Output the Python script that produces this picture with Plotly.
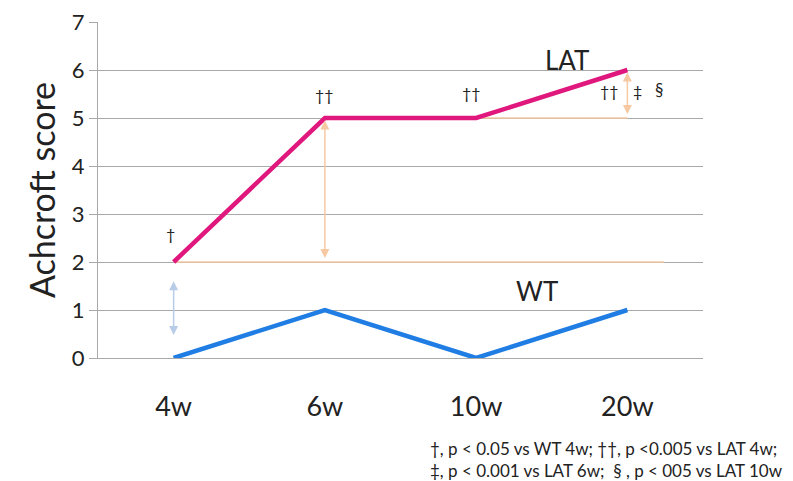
import plotly.graph_objects as go

weeks = ["4w", "6w", "10w", "20w"]
lat_scores = [2, 5, 5, 6]
wt_scores = [0, 1, 0, 1]
y_ticks = [0, 1, 2, 3, 4, 5, 6, 7]

FONT = "Lato, 'Open Sans', sans-serif"
PINK = "#E0177D"
BLUE = "#1F7DE3"
PEACH = "#F6C9A2"
LIGHTBLUE = "#B8CCE8"
GRID = "#A9A9A9"

xi = list(range(len(weeks)))

fig = go.Figure()
# peach guide lines
fig.add_trace(go.Scatter(x=[xi[0], 3.24], y=[lat_scores[0], lat_scores[0]], mode="lines",
                         line=dict(color=PEACH, width=1.5), hoverinfo="skip", showlegend=False))
fig.add_trace(go.Scatter(x=[xi[2], xi[3]], y=[lat_scores[2], lat_scores[2]], mode="lines",
                         line=dict(color=PEACH, width=1.5), hoverinfo="skip", showlegend=False))
fig.add_trace(go.Scatter(x=xi, y=lat_scores, mode="lines", name="LAT",
                         line=dict(color=PINK, width=4.5), showlegend=False))
fig.add_trace(go.Scatter(x=xi, y=wt_scores, mode="lines", name="WT",
                         line=dict(color=BLUE, width=4.5), showlegend=False))

ann = []
def arrow(x, y0, y1, color):
    ann.append(dict(x=x, y=y1, ax=x, ay=y0, xref="x", yref="y", axref="x", ayref="y",
                    showarrow=True, arrowhead=2, arrowside="end+start", arrowsize=1.2,
                    arrowwidth=1.5, arrowcolor=color, text=""))

arrow(xi[1], 2.05, 4.95, PEACH)
arrow(xi[3], 5.05, 5.95, PEACH)
arrow(xi[0], 0.45, 1.6, LIGHTBLUE)

def txt(x, y, t, size=16):
    ann.append(dict(x=x, y=y, xref="x", yref="y", text=t, showarrow=False,
                    font=dict(family=FONT, size=size, color="#222")))

txt(-0.02, 2.6, "†")
txt(xi[1], 5.5, "††")
txt(xi[2] - 0.03, 5.53, "††")
txt(2.88, 5.57, "††")
txt(3.07, 5.57, "‡")
txt(3.21, 5.6, "§", 17)
txt(2.6, 6.2, "LAT", 26)
txt(2.4, 1.4, "WT", 26)

ann.append(dict(x=(428 - 98) / 605, y=-0.303, xref="paper", yref="paper", xanchor="left", yanchor="middle",
                text="†, p < 0.05 vs WT 4w; ††, p <0.005 vs LAT 4w;<br>‡, p < 0.001 vs LAT 6w;  § , p < 005 vs LAT 10w",
                align="left", showarrow=False, font=dict(family=FONT, size=17, color="#222")))

fig.update_layout(
    width=785, height=473,
    margin=dict(l=90, r=90, t=14, b=123),
    paper_bgcolor="white", plot_bgcolor="white",
    font=dict(family=FONT, color="#222"),
    annotations=ann,
    xaxis=dict(range=[-0.5, 3.5], tickvals=xi, ticktext=weeks, showgrid=False, zeroline=False,
               showline=True, linecolor=GRID, linewidth=1, ticks="", automargin=False,
               tickfont=dict(size=27, family=FONT, color="#222"), ticklabelstandoff=25),
    yaxis=dict(range=[0, 7.0001], tickvals=y_ticks, showgrid=True, gridcolor=GRID, gridwidth=1,
               zeroline=False, showline=True, linecolor=GRID, linewidth=1, automargin=False,
               ticks="outside", ticklen=8, tickcolor=GRID, ticklabeloverflow="allow",
               tickfont=dict(size=22, family=FONT, color="#222"),
               title=dict(text="Achcroft score", font=dict(size=34, family=FONT, color="#222"), standoff=5)),
)

fig.write_html("out.html")
